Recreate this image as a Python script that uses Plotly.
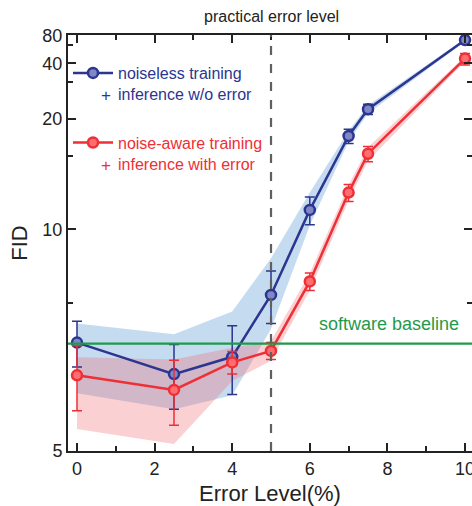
import plotly.graph_objects as go

# ---------------- data ----------------
error_level = [0, 2.5, 4, 5, 6, 7, 7.5, 10]

noiseless_fid = [6.62, 6.05, 6.35, 7.72, 10.97, 17.3, 21.9, 69.0]
noiseless_err = [0.45, 0.53, 0.62, 0.70, 0.75, 0.95, 1.1, 7.5]
noiseless_band_hi = [7.02, 6.79, 7.30, 8.85, 12.0, 18.0, 22.8, 72.0]
noiseless_band_lo = [5.75, 5.52, 5.72, 6.90, 10.2, 16.6, 21.0, 66.0]

aware_fid = [6.03, 5.80, 6.25, 6.46, 8.10, 12.0, 15.2, 43.8]
aware_err = [0.53, 0.49, 0.20, 0.16, 0.26, 0.55, 0.80, 5.0]
aware_band_hi = [6.34, 6.30, 6.52, 6.65, 8.35, 12.5, 15.9, 46.0]
aware_band_lo = [5.26, 5.08, 5.94, 6.28, 7.85, 11.5, 14.5, 41.5]

software_baseline = 6.6
practical_error_level = 5

y_ticks = [5, 10, 20, 40, 80]
y_minor_ticks = [7.5, 15, 30, 60]
x_ticks = [0, 2, 4, 6, 8, 10]
x_minor_ticks = [1, 3, 5, 7, 9]

BLUE = "#2c3590"
RED = "#ee2f35"
GREEN = "#1f9a4a"


# reciprocal axis transform (FID axis is linear in 1/FID)
def tr(v):
    return -1.0 / v


def err_plus(vals, errs):
    return [tr(v + e) - tr(v) for v, e in zip(vals, errs)]


def err_minus(vals, errs):
    return [tr(v) - tr(v - e) for v, e in zip(vals, errs)]


fig = go.Figure()

# shaded bands
fig.add_trace(go.Scatter(
    x=error_level + error_level[::-1],
    y=[tr(v) for v in noiseless_band_hi] + [tr(v) for v in noiseless_band_lo[::-1]],
    fill="toself", fillcolor="rgba(140,185,225,0.5)", line=dict(width=0),
    mode="lines", showlegend=False, hoverinfo="skip"))
fig.add_trace(go.Scatter(
    x=error_level + error_level[::-1],
    y=[tr(v) for v in aware_band_hi] + [tr(v) for v in aware_band_lo[::-1]],
    fill="toself", fillcolor="rgba(240,100,105,0.30)", line=dict(width=0),
    mode="lines", showlegend=False, hoverinfo="skip"))

# baseline and practical level
fig.add_hline(y=tr(software_baseline), line=dict(color=GREEN, width=2.2))
fig.add_vline(x=practical_error_level, line=dict(color="#606060", width=2.2, dash="dash"))

# series
fig.add_trace(go.Scatter(
    x=error_level, y=[tr(v) for v in noiseless_fid], mode="lines+markers",
    name='<span style="color:%s">noiseless training<br>inference w/o error</span>' % BLUE,
    line=dict(color=BLUE, width=2.5),
    marker=dict(symbol="circle", size=10, color="#7f88c4", line=dict(color=BLUE, width=2.5)),
    error_y=dict(type="data", symmetric=False,
                 array=err_plus(noiseless_fid, noiseless_err),
                 arrayminus=err_minus(noiseless_fid, noiseless_err),
                 color=BLUE, thickness=1.5, width=5),
    legendgroup="a"))
fig.add_trace(go.Scatter(
    x=error_level, y=[tr(v) for v in aware_fid], mode="lines+markers",
    name='<span style="color:%s">noise-aware training<br>inference with error</span>' % RED,
    line=dict(color=RED, width=2.5),
    marker=dict(symbol="circle", size=10, color="#ff6d70", line=dict(color=RED, width=2.5)),
    error_y=dict(type="data", symmetric=False,
                 array=err_plus(aware_fid, aware_err),
                 arrayminus=err_minus(aware_fid, aware_err),
                 color=RED, thickness=1.5, width=5),
    legendgroup="b"))

axis_common = dict(
    showgrid=False, zeroline=False, showline=True, linecolor="#222", linewidth=2,
    mirror="ticks", ticks="inside", ticklen=8, tickwidth=1.5, tickcolor="#222",
    tickfont=dict(size=18, color="#222"), automargin=False, ticklabeloverflow="allow",
)

PLOT_L, PLOT_W = 68, 404
PLOT_B, PLOT_H = 55, 416


def px_x(p):
    return (p - PLOT_L) / PLOT_W


def px_y(p):
    return (506 - PLOT_B - p) / PLOT_H


fig.update_layout(
    width=472, height=506,
    margin=dict(l=PLOT_L, r=0, t=35, b=PLOT_B),
    paper_bgcolor="white", plot_bgcolor="white",
    font=dict(family="Liberation Sans, Arial, sans-serif", color="#222"),
    xaxis=dict(range=[-0.232, 10.18], tickvals=x_ticks,
               ticktext=[str(v) for v in x_ticks],
               minor=dict(tickvals=x_minor_ticks, ticks="inside", ticklen=5, tickwidth=1.5, tickcolor="#222"),
               title=dict(text="Error Level(%)", font=dict(size=22), standoff=8),
               **axis_common),
    yaxis=dict(range=[tr(5), tr(82)], tickvals=[tr(v) for v in y_ticks],
               ticktext=[str(v) for v in y_ticks],
               minor=dict(tickvals=[tr(v) for v in y_minor_ticks], ticks="inside", ticklen=5, tickwidth=1.5, tickcolor="#222"),
               title=dict(text="FID", font=dict(size=22), standoff=9),
               **axis_common),
    legend=dict(x=0.0, y=px_y(56), xanchor="left", yanchor="top",
                bgcolor="rgba(0,0,0,0)", font=dict(size=16),
                tracegroupgap=25, valign="top", itemwidth=40),
    showlegend=True,
    annotations=[
        dict(text="practical error level", x=practical_error_level, xref="x",
             y=px_y(17), yref="paper", showarrow=False, font=dict(size=16, color="#222"),
             yanchor="middle"),
        dict(text="software baseline", x=8.04, xref="x", y=tr(7.0), yref="y",
             showarrow=False, font=dict(size=18, color=GREEN), yanchor="middle"),
        dict(text="+", x=px_x(106), xref="paper", y=px_y(95), yref="paper",
             showarrow=False, font=dict(size=17, color=BLUE), xanchor="center", yanchor="middle"),
        dict(text="+", x=px_x(106), xref="paper", y=px_y(165), yref="paper",
             showarrow=False, font=dict(size=17, color=RED), xanchor="center", yanchor="middle"),
    ],
)

fig.write_html("out.html", config={"displayModeBar": False},
               post_script="document.body.style.margin='0';document.body.style.overflow='hidden';")
